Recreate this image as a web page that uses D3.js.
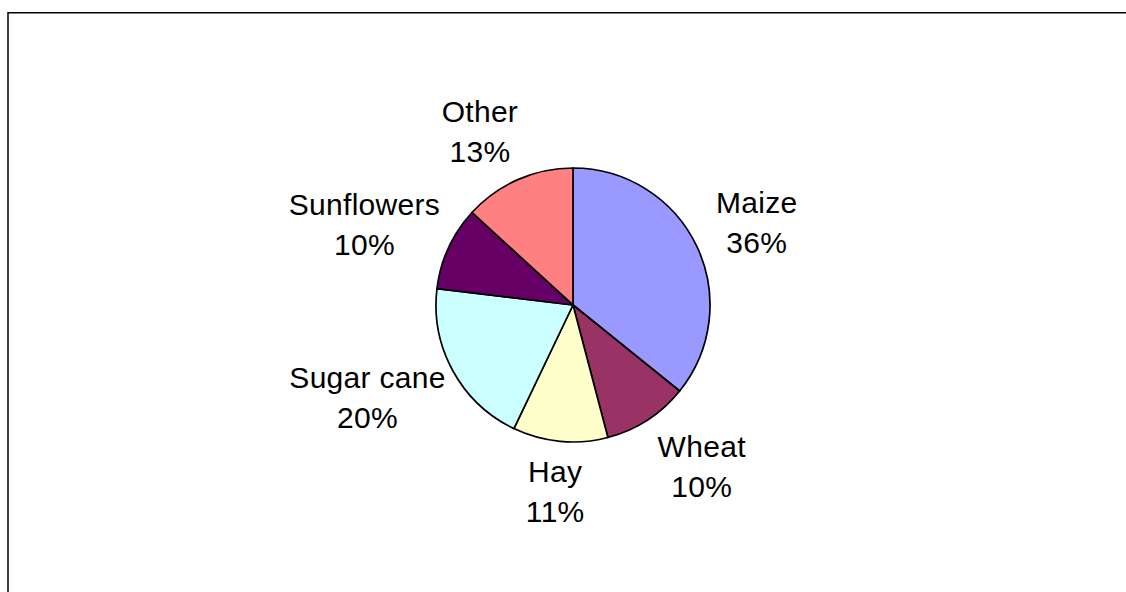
<!DOCTYPE html>
<html>
<head>
<meta charset="utf-8">
<script src="https://cdn.jsdelivr.net/npm/d3@7"></script>
<style>
  html, body { margin: 0; padding: 0; background: #fff; }
  svg { display: block; }
</style>
</head>
<body>
<svg id="chart" width="1126" height="592"></svg>
<script>
const categories = ["Maize", "Wheat", "Hay", "Sugar cane", "Sunflowers", "Other"];
const values = [35.8, 10.1, 11.2, 19.8, 9.9, 13.2];
const colors = ["#9999FF", "#993366", "#FFFFCC", "#CCFFFF", "#660066", "#FF8080"];

const W = 1126, H = 592;
const svg = d3.select("#chart");

// outer chart frame (extends past the right and bottom of the view)
svg.append("rect")
  .attr("x", 8).attr("y", 12.75)
  .attr("width", 1140).attr("height", 620)
  .attr("fill", "#fff")
  .attr("stroke", "#000")
  .attr("stroke-width", 1.5);

const cx = 573, cy = 305, r = 137;
const total = d3.sum(values);

const pie = d3.pie().sort(null).value(d => d.v).startAngle(0).endAngle(2 * Math.PI);
const arcs = pie(categories.map((c, i) => ({ c, v: values[i], col: colors[i] })));
const arc = d3.arc().innerRadius(0).outerRadius(r);

const g = svg.append("g").attr("transform", `translate(${cx},${cy})`);

g.selectAll("path.slice")
  .data(arcs)
  .join("path")
  .attr("class", "slice")
  .attr("d", arc)
  .attr("fill", d => d.data.col)
  .attr("stroke", "#000")
  .attr("stroke-width", 1.7)
  .attr("stroke-linejoin", "round");

const fontSize = 30, lineGap = 40;
const labelGap = 25;

const labels = g.selectAll("text.lbl")
  .data(arcs)
  .join("text")
  .attr("class", "lbl")
  .attr("text-anchor", "middle")
  .attr("font-family", "Liberation Sans, Arial, sans-serif")
  .attr("font-size", fontSize)
  .attr("letter-spacing", 0.3)
  .attr("fill", "#000");

labels.append("tspan").attr("class", "l1").attr("x", 0).attr("y", -9.5).text(d => d.data.c);
labels.append("tspan").attr("class", "l2").attr("x", 0).attr("y", -9.5 + lineGap)
  .text(d => Math.round(d.data.v / total * 100) + "%");

labels.each(function(d) {
  const t = d3.select(this);
  const bb = this.getBBox();
  const hw = bb.width / 2, hh = 30;
  const a = (d.startAngle + d.endAngle) / 2;
  const s = Math.sin(a), c = Math.cos(a);
  const R = r + labelGap;
  const fx = Math.sign(s) * Math.min(0.85, 2 * Math.abs(s));
  const fy = Math.max(-0.85, Math.min(0.85, c));
  const px = R * s + hw * fx + 3;
  const py = -R * c - hh * fy;
  t.attr("transform", `translate(${px},${py})`);
});
</script>
</body>
</html>
